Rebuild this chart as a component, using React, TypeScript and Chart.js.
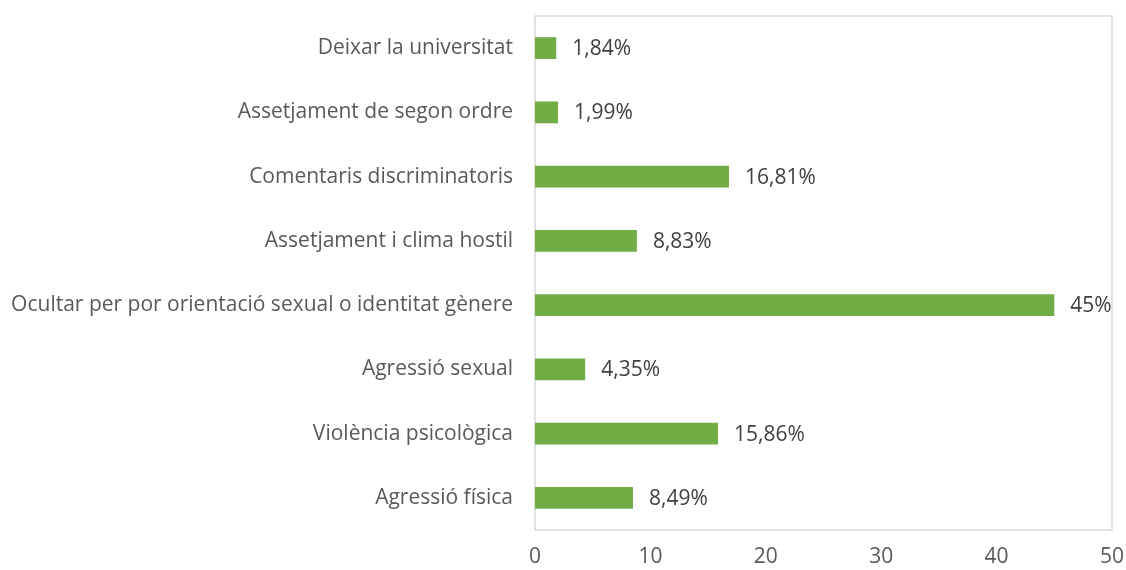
import React, { useEffect, useRef } from "react";
import { Chart, registerables } from "chart.js";

Chart.register(...registerables);

const categories: string[] = [
  "Deixar la universitat",
  "Assetjament de segon ordre",
  "Comentaris discriminatoris",
  "Assetjament i clima hostil",
  "Ocultar per por orientació sexual o identitat gènere",
  "Agressió sexual",
  "Violència psicològica",
  "Agressió física",
];
const values: number[] = [1.84, 1.99, 16.81, 8.83, 45, 4.35, 15.86, 8.49];
const valueLabels: string[] = ["1,84%", "1,99%", "16,81%", "8,83%", "45%", "4,35%", "15,86%", "8,49%"];

const FONT = "'Open Sans', sans-serif";
const FS = 21;

const boxPlugin = {
  id: "box",
  beforeDatasetsDraw(chart: any) {
    const { ctx, chartArea } = chart;
    ctx.save();
    ctx.strokeStyle = "#d9d9d9";
    ctx.lineWidth = 1.5;
    ctx.strokeRect(chartArea.left, chartArea.top, chartArea.right - chartArea.left, chartArea.bottom - chartArea.top);
    ctx.restore();
  },
};

const labelPlugin = {
  id: "valLabels",
  afterDatasetsDraw(chart: any) {
    const { ctx } = chart;
    const meta = chart.getDatasetMeta(0);
    ctx.save();
    ctx.font = `${FS}px ${FONT}`;
    ctx.fillStyle = "#404040";
    ctx.textAlign = "left";
    ctx.textBaseline = "middle";
    meta.data.forEach((bar: any, i: number) => {
      ctx.fillText(valueLabels[i], bar.x + 16, bar.y + 1);
    });
    ctx.restore();
  },
};

export default function App() {
  const ref = useRef<HTMLCanvasElement>(null);
  useEffect(() => {
    document.body.style.margin = "0";
    document.documentElement.style.overflow = "hidden";
    if (!ref.current) return;
    const chart = new Chart(ref.current, {
      type: "bar",
      data: {
        labels: categories,
        datasets: [
          {
            data: values,
            backgroundColor: "#70ad47",
            barPercentage: 0.68,
            categoryPercentage: 0.5,
          },
        ],
      },
      options: {
        indexAxis: "y",
        animation: false,
        responsive: false,
        layout: { autoPadding: false, padding: { top: 16, right: 14, left: 8, bottom: 0 } },
        plugins: { legend: { display: false }, tooltip: { enabled: false } },
        scales: {
          x: {
            min: 0,
            max: 50,
            ticks: { stepSize: 10, color: "#595959", font: { family: FONT, size: FS }, padding: 14 },
            grid: { display: false, drawTicks: false },
            border: { display: false },
            afterFit(scale: any) {
              scale.height = 40;
              scale.paddingLeft = 0;
              scale.paddingRight = 0;
            },
          },
          y: {
            ticks: { color: "#595959", font: { family: FONT, size: FS }, padding: 22 },
            grid: { display: false, drawTicks: false },
            border: { display: false },
            afterFit(scale: any) {
              scale.width = 527;
              scale.paddingTop = 0;
              scale.paddingBottom = 0;
            },
          },
        },
      },
      plugins: [boxPlugin, labelPlugin],
    });
    return () => chart.destroy();
  }, []);
  return (
    <div style={{ width: 1126, height: 570 }}>
      <canvas ref={ref} width={1126} height={570} style={{ display: "block" }} />
    </div>
  );
}
